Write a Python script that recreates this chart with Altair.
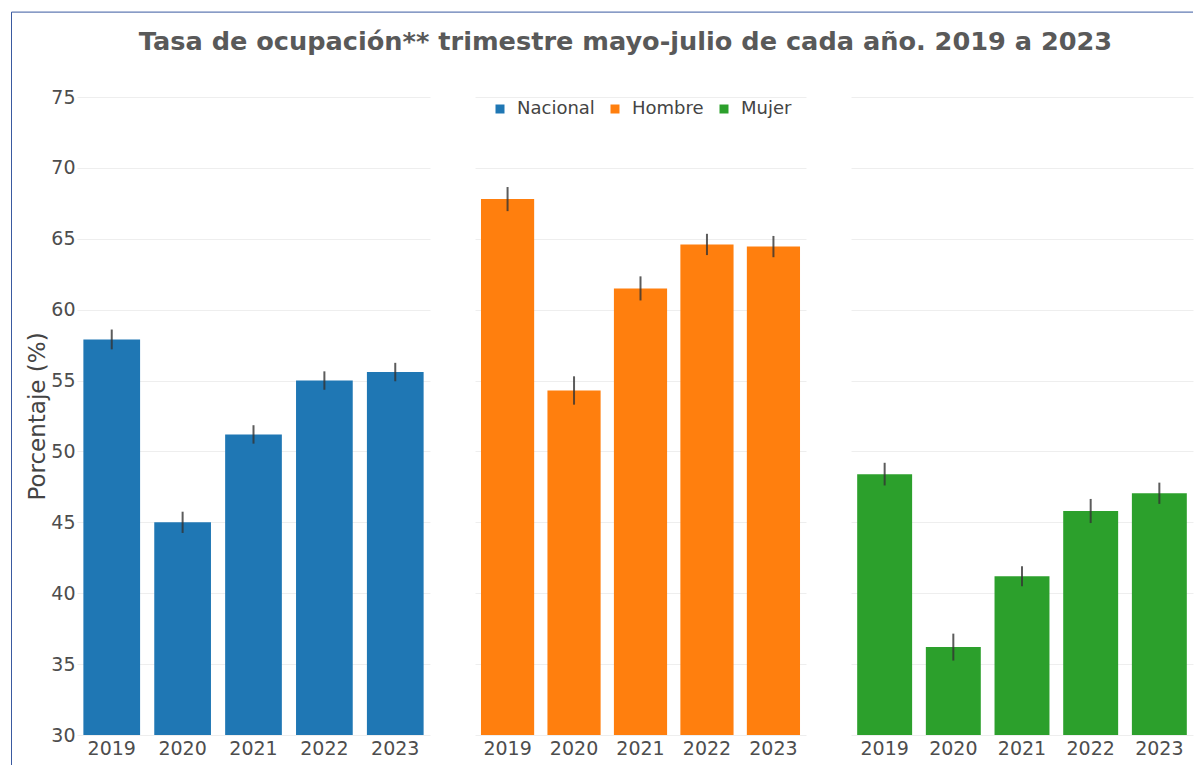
import altair as alt
import pandas as pd

years = ["2019", "2020", "2021", "2022", "2023"]
grupos = ["Nacional", "Hombre", "Mujer"]
colores = ["#1f77b4", "#ff7f0e", "#2ca02c"]

nacional = [57.9, 45.0, 51.2, 55.0, 55.6]
nacional_err = [0.7, 0.75, 0.65, 0.65, 0.65]
hombre = [67.8, 54.3, 61.5, 64.6, 64.45]
hombre_err = [0.85, 1.0, 0.85, 0.75, 0.75]
mujer = [48.4, 36.2, 41.2, 45.8, 47.05]
mujer_err = [0.8, 0.95, 0.7, 0.85, 0.75]

y_ticks = [30, 35, 40, 45, 50, 55, 60, 65, 70, 75]
titulo = "Tasa de ocupación** trimestre mayo-julio de cada año. 2019 a 2023"
y_title = "Porcentaje (%)"

rows = []
for g, vals, errs in [("Nacional", nacional, nacional_err),
                      ("Hombre", hombre, hombre_err),
                      ("Mujer", mujer, mujer_err)]:
    for yr, v, e in zip(years, vals, errs):
        rows.append({"grupo": g, "year": yr, "value": v, "lo": v - e, "hi": v + e})
df = pd.DataFrame(rows)

FONT = "DejaVu Sans"
H = 638

color = alt.Color(
    "grupo:N",
    scale=alt.Scale(domain=grupos, range=colores),
    legend=alt.Legend(
        title=None, orient="none", direction="horizontal",
        legendX=414, legendY=3, padding=0,
        symbolType="square", symbolSize=81, symbolStrokeWidth=0,
        labelFont=FONT, labelFontSize=18, labelColor="#444444",
        labelOffset=8, columnPadding=11,
    ),
)


def panel(grupo, width, first):
    base = alt.Chart(df).transform_filter(alt.datum.grupo == grupo)
    x = alt.X(
        "year:N",
        sort=years,
        scale=alt.Scale(paddingInner=0.2, paddingOuter=0.09),
        axis=alt.Axis(title=None, labelAngle=0, ticks=False, domain=False, grid=False,
                      labelFont=FONT, labelFontSize=19, labelColor="#4d4d4d",
                      labelPadding=4),
    )
    if first:
        yaxis = alt.Axis(values=y_ticks, title=y_title, titleFont=FONT, titleFontSize=23,
                         titleFontWeight="normal", titleColor="#444444", titlePadding=1,
                         labelFont=FONT, labelFontSize=19, labelColor="#4d4d4d",
                         labelPadding=2, ticks=False, domain=False,
                         gridColor="#eeeeee", gridWidth=1)
    else:
        yaxis = alt.Axis(values=y_ticks, title=None, labels=False, ticks=False,
                         domain=False, gridColor="#eeeeee", gridWidth=1)
    y = alt.Y("value:Q", scale=alt.Scale(domain=[30, 75], zero=False, nice=False), axis=yaxis)
    bars = base.mark_bar().encode(x=x, y=y, y2=alt.datum(30), color=color)
    err = base.mark_rule(strokeWidth=2, color="#333333", opacity=0.8).encode(
        x=alt.X("year:N", sort=years), y="lo:Q", y2="hi:Q")
    layers = [bars, err]
    if first:
        one = pd.DataFrame({"t": [titulo]})
        title_mark = alt.Chart(one).mark_text(
            font=FONT, fontSize=25.6, fontWeight="bold", color="#595959",
            align="center", baseline="alphabetic",
        ).encode(text="t:N", x=alt.value(548.5), y=alt.value(-47.5))
        frame_top = alt.Chart(one).mark_rule(color="#3a5aa0", strokeWidth=1).encode(
            x=alt.value(-65.5), x2=alt.value(1116), y=alt.value(-84.9))
        frame_left = alt.Chart(one).mark_rule(color="#3a5aa0", strokeWidth=1).encode(
            x=alt.value(-65.5), y=alt.value(-84.9), y2=alt.value(668))
        layers += [title_mark, frame_top, frame_left]
    return alt.layer(*layers).properties(width=width, height=H)


chart = alt.hconcat(
    panel("Nacional", 353, True),
    panel("Hombre", 331, False),
    panel("Mujer", 342, False),
    spacing=45,
    bounds="flush",
).properties(
    padding={"left": 3, "top": 3, "right": 0, "bottom": 0},
).configure_view(stroke=None)

chart.save("out.html", embed_options={"renderer": "svg", "actions": False})
